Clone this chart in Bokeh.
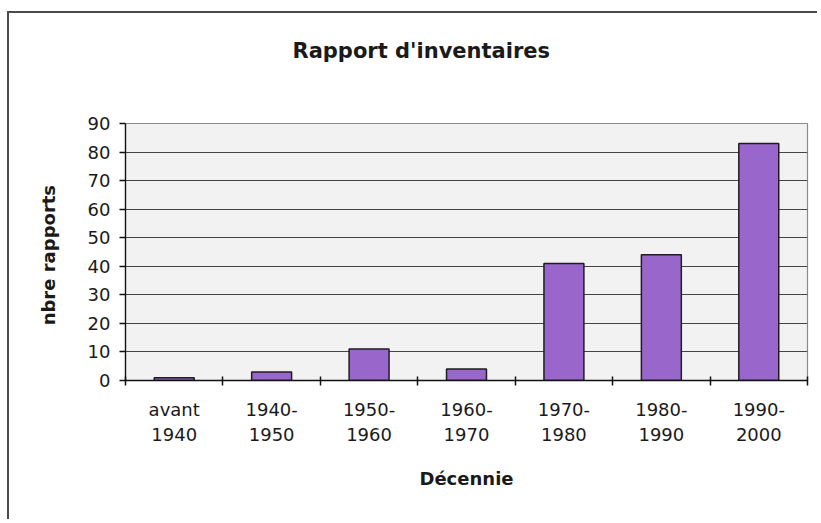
import numpy as np
from bokeh.plotting import figure
from bokeh.models import Range1d, FixedTicker, ColumnDataSource, Title
from bokeh.embed import file_html
from bokeh.resources import INLINE

# ---- data ----
categories = ["avant\n1940", "1940-\n1950", "1950-\n1960", "1960-\n1970",
              "1970-\n1980", "1980-\n1990", "1990-\n2000"]
rapports = [1, 3, 11, 4, 41, 44, 83]
y_ticks = [0, 10, 20, 30, 40, 50, 60, 70, 80, 90]
title_text = "Rapport d'inventaires"
x_title = "Décennie"
y_title = "nbre  rapports"

FONT = "DejaVu Sans"
n = len(categories)
centers = [i + 0.5 for i in range(n)]
bounds = list(range(n + 1))

src = ColumnDataSource(dict(x=centers, top=rapports))

p = figure(width=810, height=508, output_backend="svg", toolbar_location=None,
           x_range=Range1d(0, n), y_range=Range1d(0, 90),
           min_border_left=116, min_border_right=12,
           min_border_top=110, min_border_bottom=141)
p.styles = {"margin-top": "11px", "margin-left": "7px",
            "border-top": "2px solid #4a4a4a",
            "border-left": "2px solid #4a4a4a"}

p.background_fill_color = "#f2f2f2"
p.border_fill_color = "white"
p.outline_line_color = "#8a8a8a"
p.outline_line_width = 1.2

p.vbar(x="x", top="top", width=0.41, source=src, fill_color="#9966cc",
       line_color="#1e1e1e", line_width=1.5)

# spacer between the plot area and the title
p.add_layout(Title(text=" ", text_font_size="10px", standoff=48), "above")

# title
p.title.text = title_text
p.title.text_font = FONT
p.title.text_font_style = "bold"
p.title.text_font_size = "21px"
p.title.text_color = "#1a1a1a"
p.title.align = "left"
p.title.offset = 167
p.title.standoff = 0

# x axis
xax = p.xaxis[0]
xax.ticker = FixedTicker(ticks=centers, minor_ticks=bounds)
xax.major_label_overrides = {c: lab for c, lab in zip(centers, categories)}
xax.major_tick_line_color = None
xax.minor_tick_line_color = "#111111"
xax.minor_tick_line_width = 1.5
xax.minor_tick_in = 4
xax.minor_tick_out = 5
xax.axis_line_color = "#111111"
xax.axis_line_width = 1.3
xax.major_label_text_font = FONT
xax.major_label_text_font_size = "18px"
xax.major_label_text_color = "#1a1a1a"
xax.major_label_standoff = 12
xax.axis_label = x_title
xax.axis_label_text_font = FONT
xax.axis_label_text_font_style = "bold"
xax.axis_label_text_font_size = "18px"
xax.axis_label_text_color = "#1a1a1a"
xax.axis_label_standoff = 20

# y axis
yax = p.yaxis[0]
yax.ticker = FixedTicker(ticks=y_ticks)
yax.major_tick_in = 0
yax.major_tick_out = 6
yax.major_tick_line_color = "#111111"
yax.major_tick_line_width = 1.3
yax.minor_tick_line_color = None
yax.axis_line_color = "#111111"
yax.axis_line_width = 1.3
yax.major_label_text_font = FONT
yax.major_label_text_font_size = "18px"
yax.major_label_text_color = "#1a1a1a"
yax.major_label_standoff = 9
yax.axis_label = y_title
yax.axis_label_text_font = FONT
yax.axis_label_text_font_style = "bold"
yax.axis_label_text_font_size = "18px"
yax.axis_label_text_color = "#1a1a1a"
yax.axis_label_standoff = 26

p.xgrid.grid_line_color = None
p.ygrid.grid_line_color = "#444444"
p.ygrid.grid_line_width = 1.2

open("out.html", "w").write(file_html(p, INLINE))
